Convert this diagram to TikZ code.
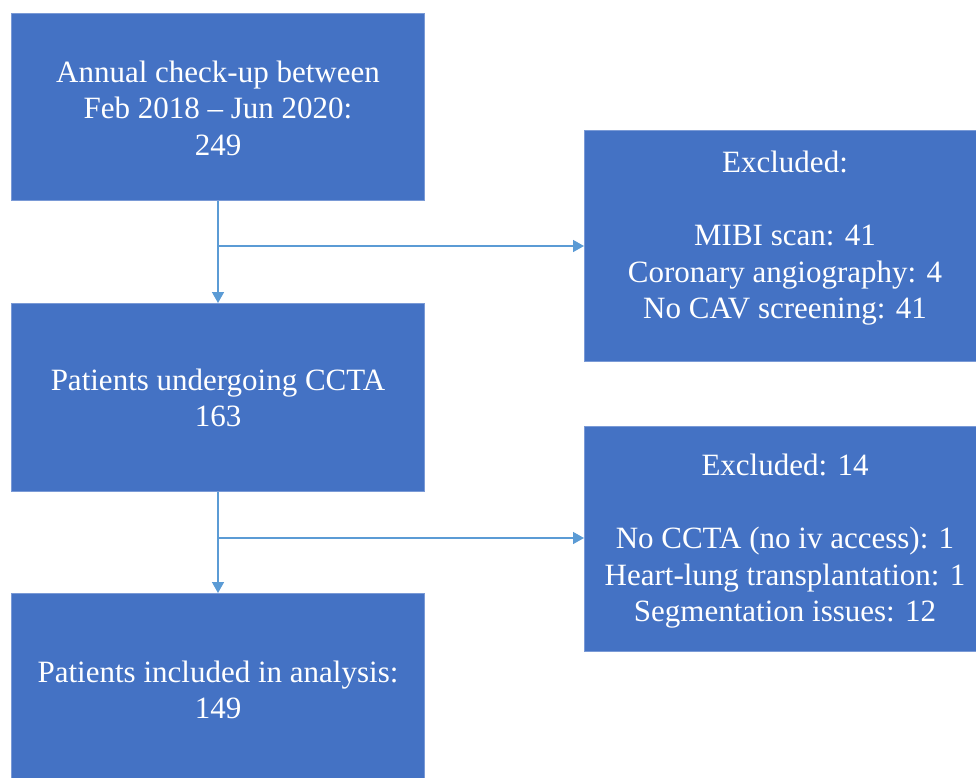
\documentclass[tikz,border=0pt]{standalone}
\usepackage{fontspec}
\setmainfont{Liberation Serif}
\usetikzlibrary{arrows.meta}
\definecolor{boxfill}{HTML}{4472C4}
\definecolor{boxedge}{HTML}{7A9AD6}
\definecolor{linkcol}{HTML}{5B9BD5}
\tikzset{
  flowbox/.style={rectangle, fill=boxfill, draw=boxedge, line width=0.8pt, inner sep=0pt, anchor=north west},
  flowtext/.style={text=white, align=center, font=\fontsize{31}{36.5}\selectfont, inner sep=0pt},
  link/.style={draw=linkcol, line width=1.5pt, -{Triangle[length=11pt,width=12pt]}},
  branch/.style={draw=linkcol, line width=1.5pt}
}
\begin{document}
\begin{tikzpicture}[x=1pt,y=-1pt]
\useasboundingbox (0,0) rectangle (976,777);
\begin{scope}
\clip (0,0) rectangle (976,777);
% left boxes
\node[flowbox, minimum width=413pt, minimum height=187pt] (b1) at (11,13) {};
\node[flowbox, minimum width=413pt, minimum height=188pt] (b2) at (11,303) {};
\node[flowbox, minimum width=413pt, minimum height=195pt] (b3) at (11,593) {};
% right boxes
\node[flowbox, minimum width=400pt, minimum height=231pt] (r1) at (584,130) {};
\node[flowbox, minimum width=400pt, minimum height=225pt] (r2) at (584,426) {};
\end{scope}
% texts
\node[flowtext] (t1) at (218,108) {Annual check-up between\\Feb 2018 -- Jun 2020:\\249};
\node[flowtext] (t2) at (218,398) {Patients undergoing CCTA\\163};
\node[flowtext] (t3) at (218,690) {Patients included in analysis:\\149};
\node[flowtext] (t4) at (785,238) {Excluded:\\[37pt]MIBI scan: 41\\Coronary angiography: 4\\No CAV screening: 41};
\node[flowtext] (t5) at (785,541) {Excluded: 14\\[37pt]No CCTA (no iv access): 1\\Heart-lung transplantation: 1\\Segmentation issues: 12};
% connectors
\coordinate (j1) at (218,246);
\coordinate (j2) at (218,538);
\draw[link] (b1.south -| j1) -- (b2.north -| j1);
\draw[link] (j1) -- (j1 -| r1.west);
\draw[link] (b2.south -| j2) -- (b3.north -| j2);
\draw[link] (j2) -- (j2 -| r2.west);
\end{tikzpicture}
\end{document}
